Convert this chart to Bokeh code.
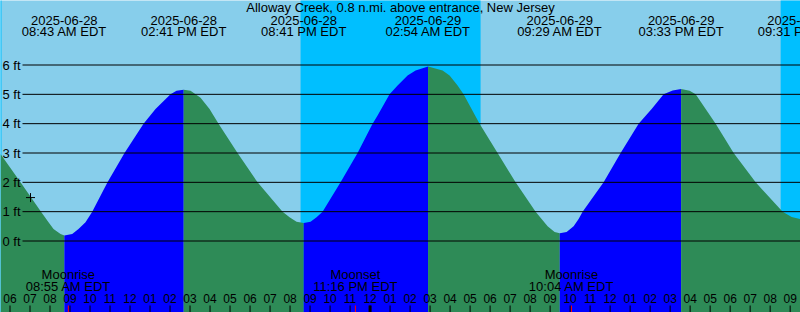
from bokeh.plotting import figure
from bokeh.models import Range1d
from bokeh.core.properties import value
from bokeh.embed import file_html
from bokeh.resources import INLINE

# ---------------- data (hours since 2025-06-28 00:00 EDT, heights in ft) ----------------
title_text = "Alloway Creek, 0.8 n.mi. above entrance, New Jersey"

curve_t = [5.525, 6.525, 7.55, 7.925, 8.175, 8.525, 8.717, 9.11, 9.425, 9.775,
           10.11, 10.875, 11.725, 12.675, 13.275, 14.025, 14.325, 14.683, 15.025, 15.525,
           15.975, 16.425, 17.375, 18.375, 19.625, 19.975, 20.325, 20.683, 21.025, 21.325,
           21.625, 22.525, 23.375, 24.125, 24.375, 24.975, 25.375, 25.875, 26.275, 26.9,
           27.625, 27.975, 28.375, 28.675, 29.25, 29.475, 30.375, 31.275, 32.275, 32.575,
           32.875, 33.225, 33.483, 33.825, 34.175, 34.425, 34.625, 35.675, 36.525, 37.425,
           38.075, 38.675, 39.125, 39.55, 39.975, 40.275, 40.775, 41.275, 42.175, 43.275,
           44.625, 45.075, 45.517]
curve_h = [2.97, 2.0, 1.0, 0.64, 0.41, 0.24, 0.19, 0.24, 0.41, 0.64,
           1.0, 2.0, 3.0, 4.0, 4.5, 5.0, 5.12, 5.16, 5.12, 4.88,
           4.5, 4.0, 3.0, 2.0, 1.0, 0.81, 0.66, 0.61, 0.66, 0.81,
           1.0, 2.0, 3.0, 4.0, 4.28, 5.0, 5.3, 5.64, 5.81, 5.95,
           5.81, 5.64, 5.3, 5.0, 4.28, 4.0, 3.0, 2.0, 1.0, 0.75,
           0.5, 0.31, 0.26, 0.31, 0.5, 0.75, 1.0, 2.0, 3.0, 4.0,
           4.5, 5.0, 5.13, 5.18, 5.12, 5.0, 4.5, 4.0, 3.0, 2.0,
           1.0, 0.82, 0.75]

tide_t = [8.717, 14.683, 20.683, 26.9, 33.483, 39.55, 45.517]
tide_dates = ["2025-06-28", "2025-06-28", "2025-06-28", "2025-06-29",
              "2025-06-29", "2025-06-29", "2025-06-29"]
tide_labels = ["08:43 AM EDT", "02:41 PM EDT", "08:41 PM EDT", "02:54 AM EDT",
               "09:29 AM EDT", "03:33 PM EDT", "09:31 PM EDT"]

night_start = [5.0, 20.525, 44.525]
night_end = [5.575, 29.525, 46.0]

moon_t = [8.917, 23.267, 34.067]
moon_names = ["Moonrise", "Moonset", "Moonrise"]
moon_labels = ["08:55 AM EDT", "11:16 PM EDT", "10:04 AM EDT"]

hours = list(range(6, 46))
hour_labels = ["%02d" % ((h % 12) or 12) for h in hours]
midnight = [24]

grid_ft = [0, 1, 2, 3, 4, 5, 6]
grid_labels = ["%d ft" % v for v in grid_ft]

now_t = [7.025]
now_h = [1.48]

# ---------------- layout ----------------
W, H = 800, 312
X0, X1 = 5.525, 45.517
PX_PER_FT = 176.0 / 6.0
Y0 = -(H - 240.5) / PX_PER_FT
Y1 = 240.5 / PX_PER_FT
TEXT_SHIFT = 4.5


def ypx(px):
    return Y1 - px / PX_PER_FT


def ty(px):
    # baseline position for texts (compensates renderer baseline offset)
    return ypx(px - TEXT_SHIFT)


def xpx(px):
    return X0 + px * (X1 - X0) / W


FONT = value("Liberation Sans")
DAY = "#87CEEB"
NIGHT = "#00BFFF"
RISE = "#0000FF"
FALL = "#2E8B57"

p = figure(width=W, height=H, x_range=Range1d(X0, X1), y_range=Range1d(Y0, Y1),
           output_backend="svg", toolbar_location=None, min_border=0,
           background_fill_color=DAY, border_fill_color=DAY, outline_line_color=None)
p.title.visible = False
p.axis.visible = False
p.grid.visible = False

# night bands
p.quad(left=night_start, right=night_end, bottom=Y0 - 1, top=Y1 + 1,
       fill_color=NIGHT, line_color=None)

# tide fill split at extremes
breaks = [curve_t[0]] + tide_t
for a, b in zip(breaks[:-1], breaks[1:]):
    seg = [(t, h) for t, h in zip(curve_t, curve_h) if a <= t <= b]
    ts = [s[0] for s in seg]
    hs = [s[1] for s in seg]
    color = RISE if hs[-1] > hs[0] else FALL
    p.varea(x=ts, y1=[Y0] * len(ts), y2=hs, fill_color=color)

# grid lines
p.segment(x0=[xpx(22)] * len(grid_ft), x1=[X1] * len(grid_ft), y0=grid_ft, y1=grid_ft,
          line_color="black", line_width=1)
p.text(x=[xpx(2)] * len(grid_ft), y=[ty((240.5 - v * PX_PER_FT) + 4.5) for v in grid_ft],
       text=grid_labels, text_font=FONT, text_font_size="13px",
       text_align="left", text_baseline="alphabetic", text_color="black")

# title
p.text(x=[xpx(400)], y=[ty(11)], text=[title_text], text_font=FONT,
       text_font_size="13px", text_align="center", text_baseline="alphabetic",
       text_color="black")

# tide labels
p.text(x=tide_t, y=[ty(24)] * len(tide_t), text=tide_dates, text_font=FONT,
       text_font_size="13px", text_align="center", text_baseline="alphabetic",
       text_color="black")
p.text(x=tide_t, y=[ty(35.7)] * len(tide_t), text=tide_labels, text_font=FONT,
       text_font_size="13px", text_align="center", text_baseline="alphabetic",
       text_color="black")

# moon labels
p.text(x=moon_t, y=[ty(278.5)] * len(moon_t), text=moon_names, text_font=FONT,
       text_font_size="13px", text_align="center", text_baseline="alphabetic",
       text_color="black")
p.text(x=moon_t, y=[ty(290)] * len(moon_t), text=moon_labels, text_font=FONT,
       text_font_size="13px", text_align="center", text_baseline="alphabetic",
       text_color="black")

# hour axis
p.text(x=hours, y=[ty(302)] * len(hours), text=hour_labels, text_font=FONT,
       text_font_size="12px", text_align="center", text_baseline="alphabetic",
       text_color="black")
p.segment(x0=hours, x1=hours, y0=[ypx(305)] * len(hours), y1=[ypx(313)] * len(hours),
          line_color="black", line_width=1)
p.segment(x0=midnight, x1=midnight, y0=[ypx(305)], y1=[ypx(313)],
          line_color="black", line_width=3)
p.segment(x0=moon_t, x1=moon_t, y0=[ypx(305)] * len(moon_t), y1=[ypx(313)] * len(moon_t),
          line_color="red", line_width=1)

# current-time marker
p.scatter(x=now_t, y=now_h, marker="cross", size=9, line_color="black", line_width=1)

open("out.html", "w").write(file_html(p, INLINE))
